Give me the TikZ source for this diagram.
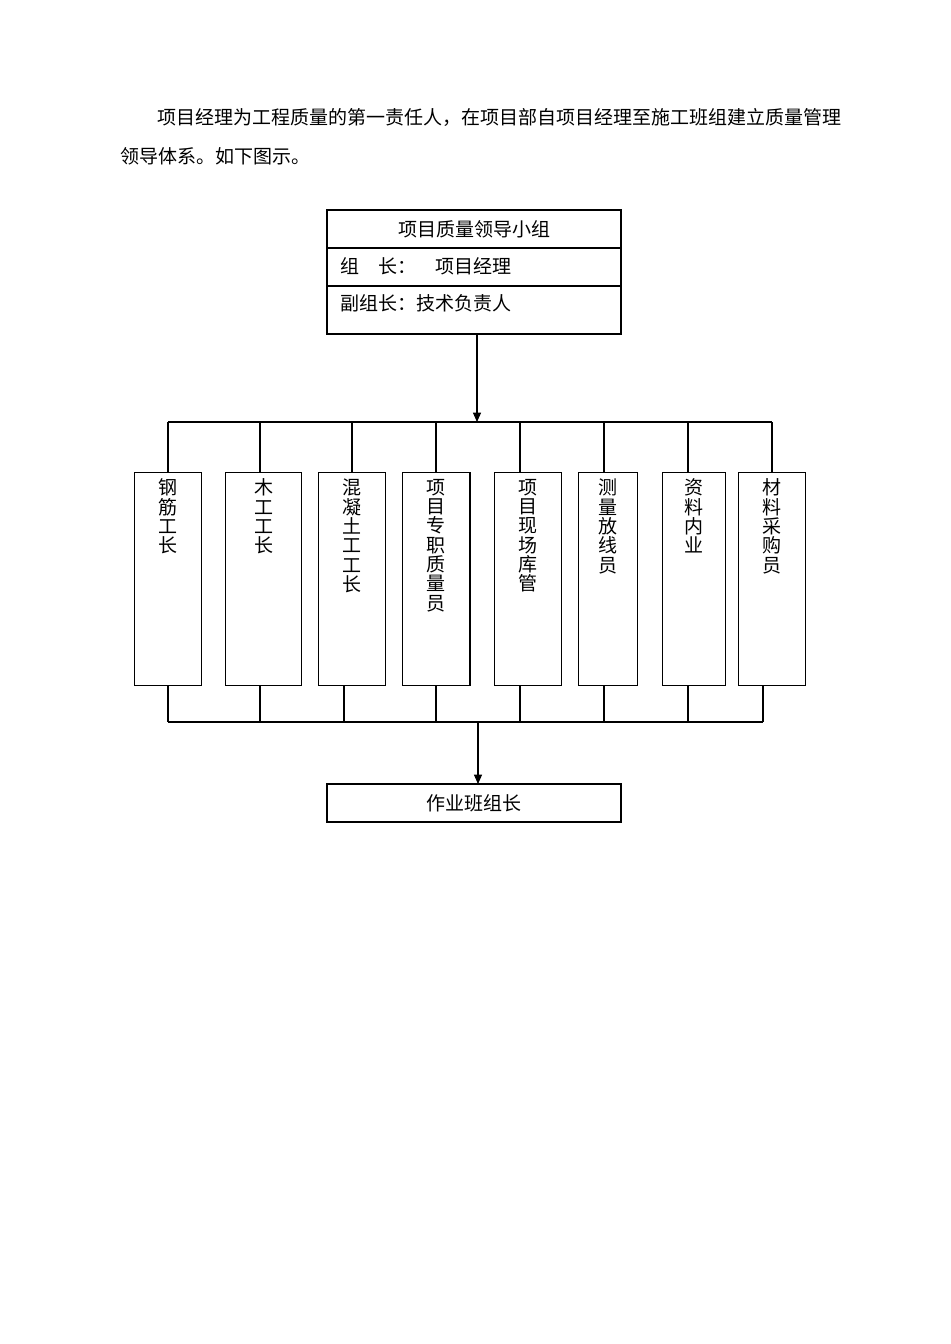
\documentclass[tikz,border=0pt]{standalone}
\usepackage{fontspec}
\newfontfamily\cjk{Noto Sans CJK SC}
\usetikzlibrary{arrows.meta}
\begin{document}
\begin{tikzpicture}[x=0.75pt,y=-0.75pt,
  every node/.style={font=\cjk\fontsize{14.25}{14.5}\selectfont},
  frame/.style={draw, line width=0.8pt, inner sep=0pt, outer sep=0pt},
  txt/.style={inner sep=0pt, outer sep=0pt},
  vtxt/.style={inner sep=0pt, outer sep=0pt, align=center, anchor=north},
  link/.style={line width=0.8pt, draw=black},
  arr/.style={link, -{Triangle[length=7pt,width=6pt]}}
]
\useasboundingbox (0,0) rectangle (950,1344);

% paragraph
\node[txt, anchor=west] (p1) at (157,117) {项目经理为工程质量的第一责任人，在项目部自项目经理至施工班组建立质量管理};
\node[txt, anchor=west] (p2) at (120,156) {领导体系。如下图示。};

% top box
\node[frame, minimum width=220.5pt, minimum height=28.5pt] (t1) at (474,229) {项目质量领导小组};
\node[frame, minimum width=220.5pt, minimum height=28.5pt] (t2) at (474,267) {};
\node[frame, minimum width=220.5pt, minimum height=36pt] (t3) at (474,310) {};
\node[txt, anchor=west] (t2t) at (340,266) {组　长：　项目经理};
\node[txt, anchor=west] (t3t) at (340,303) {副组长：技术负责人};

\coordinate (tb) at (0,422);
\coordinate (ta) at (477,334);
\draw[arr] (t3.south -| ta) -- (ta |- tb);

% member boxes
\foreach \i/\cx/\w/\ts/\bs/\t in {
  1/168/50.5/168/168/{钢\\筋\\工\\长},
  2/263.8/56.8/260/260/{木\\工\\工\\长},
  3/352.2/50.25/352/344/{混\\凝\\土\\工\\工\\长},
  4/436.3/50.5/436/436/{项\\目\\专\\职\\质\\量\\员},
  5/528/50.5/520/520/{项\\目\\现\\场\\库\\管},
  6/607.8/44.25/604/604/{测\\量\\放\\线\\员},
  7/694/47.5/688/688/{资\\料\\内\\业},
  8/772/50.5/772/763/{材\\料\\采\\购\\员}} {
  \node[frame, minimum width=\w pt, minimum height=159.5pt] (b\i) at (\cx,578.7) {};
  \node[vtxt] (bt\i) at (\cx,479) {\t};
  \coordinate (ts\i) at (\ts,422);
  \coordinate (bs\i) at (\bs,722);
  \draw[link] (b\i.north -| ts\i) -- (ts\i);
  \draw[link] (b\i.south -| bs\i) -- (bs\i);
}
\draw[link] (ts1) -- (ts8);
\draw[link] (bs1) -- (bs8);

% bottom box
\node[frame, minimum width=220.5pt, minimum height=28.5pt] (w) at (474,803) {作业班组长};
\coordinate (ba) at (478,722);
\draw[arr] (ba) -- (ba |- w.north);
\end{tikzpicture}
\end{document}
